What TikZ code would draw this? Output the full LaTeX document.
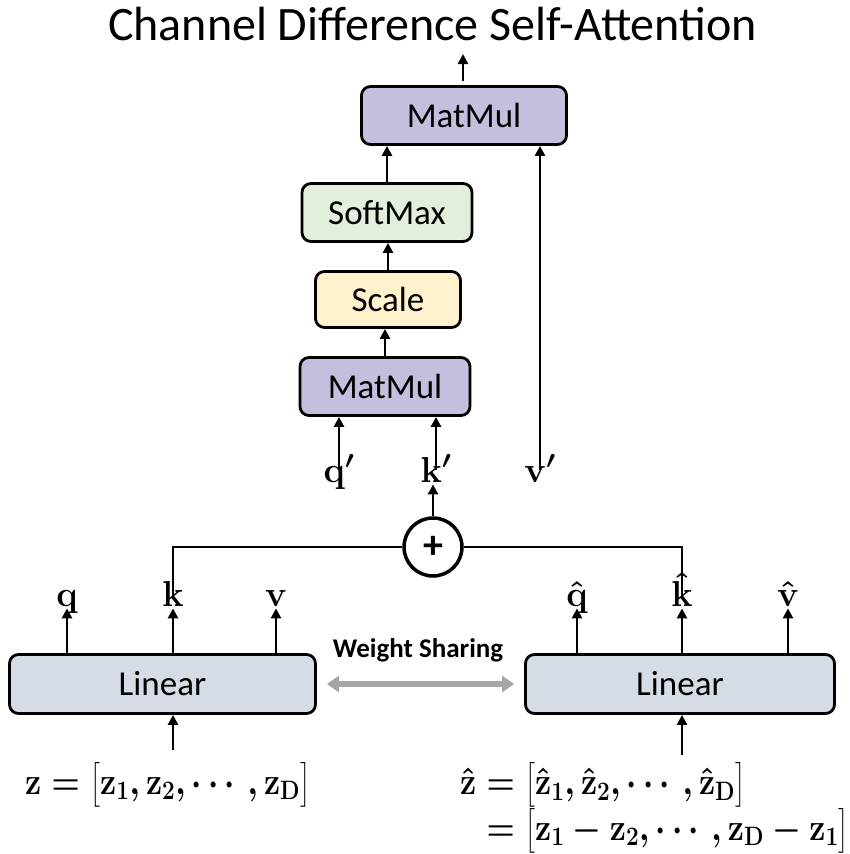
\RequirePackage{fix-cm}
\documentclass[tikz,border=0pt]{standalone}
\usepackage[no-math]{fontspec}
\setmainfont{Carlito}
\usepackage{amsmath}
\usetikzlibrary{arrows.meta}
\definecolor{mmcol}{HTML}{C5BEDE}
\definecolor{smcol}{HTML}{E2EFDA}
\definecolor{sccol}{HTML}{FFF2CC}
\definecolor{lincol}{HTML}{D6DCE5}
\definecolor{wscol}{HTML}{A6A6A6}
\begin{document}
\begin{tikzpicture}[x=1pt,y=-1pt,
  opbox/.style={draw, line width=2.8pt, rounded corners=9pt, inner sep=0pt,
    font=\fontsize{35}{40}\selectfont},
  arr/.style={-{Triangle[length=10pt,width=10pt]}, line width=2.5pt},
  conn/.style={line width=2.5pt},
  lab/.style={inner sep=0pt, anchor=base, font=\fontsize{36}{40}\selectfont\boldmath,
    text height=0.9em, text depth=0.22em},
  formula/.style={inner sep=0pt, font=\fontsize{38}{44}\selectfont\boldmath}]
\useasboundingbox (0,0) rectangle (850,854);

% title
\node[inner sep=0pt, anchor=base, font=\fontsize{48}{50}\selectfont] (title) at (432.5,40) {Channel Difference Self-Attention};
\coordinate (titlein) at (463,54);

% attention stack
\node[opbox, fill=mmcol, minimum width=205, minimum height=58] (mmtop) at (464,115.5) {MatMul};
\node[opbox, fill=smcol, minimum width=170, minimum height=58] (soft) at (387,212.5) {SoftMax};
\node[opbox, fill=sccol, minimum width=145, minimum height=56] (scale) at (388,299.5) {Scale};
\node[opbox, fill=mmcol, minimum width=170, minimum height=58] (mm) at (385,386.5) {MatMul};

\draw[arr, shorten <=4pt] (mmtop.north -| titlein) -- (titlein);
\draw[arr] (soft.north) -- (soft.north |- mmtop.south);
\draw[arr] (scale.north) -- (scale.north |- soft.south);
\draw[arr] (mm.north) -- (mm.north |- scale.south);

% primed labels
\node[lab] (qp) at (339,482) {$\mathbf{q}'$};
\node[lab] (kp) at (436,482) {$\mathbf{k}'$};
\node[lab] (vp) at (540,482) {$\mathbf{v}'$};
\draw[arr, shorten <=3pt] (qp.north) -- (qp.north |- mm.south);
\draw[arr, shorten <=3pt] (kp.north) -- (kp.north |- mm.south);
\draw[arr, shorten <=3pt] (vp.north) -- (vp.north |- mmtop.south);

% sum
\node[draw, circle, line width=3.5pt, minimum size=58, inner sep=0pt,
  font=\fontsize{40}{40}\selectfont\bfseries] (plus) at (433,547) {+};
\draw[arr] (plus.north) -- (plus.north |- kp.south);

% left branch
\node[opbox, fill=lincol, minimum width=306, minimum height=59] (linL) at (162.5,684) {Linear};
\node[lab] (ql) at (67,606) {$\mathbf{q}$};
\node[lab] (kl) at (173,606) {$\mathbf{k}$};
\node[lab] (vl) at (276,606) {$\mathbf{v}$};
\draw[arr] (ql.south |- linL.north) -- (ql.south);
\draw[arr] (kl.south |- linL.north) -- (kl.south);
\draw[arr] (vl.south |- linL.north) -- (vl.south);

% right branch
\node[opbox, fill=lincol, minimum width=309, minimum height=59] (linR) at (680,684) {Linear};
\node[lab] (qr) at (577,606) {$\hat{\mathbf{q}}$};
\node[lab] (kr) at (682,606) {$\hat{\mathbf{k}}$};
\node[lab] (vr) at (788,606) {$\hat{\mathbf{v}}$};
\draw[arr] (qr.south |- linR.north) -- (qr.south);
\draw[arr] (kr.south |- linR.north) -- (kr.south);
\draw[arr] (vr.south |- linR.north) -- (vr.south);

% k, k-hat into sum
\draw[conn] (kl.north) |- (plus.west);
\draw[conn] (kr.north) |- (plus.east);

% weight sharing
\node[inner sep=0pt, font=\fontsize{27}{30}\selectfont\bfseries] (ws) at (418,650) {Weight Sharing};
\draw[{Triangle[length=12pt,width=16pt]}-{Triangle[length=12pt,width=16pt]},
  line width=6pt, draw=wscol, fill=wscol, shorten <=10pt, shorten >=10pt]
  (linL.east) -- (linR.west);

% inputs
\node[formula, anchor=base west] (zl) at (25,794)
  {\scalebox{0.85}[1]{$\mathbf{z} = \big[\mathbf{z}_{\mathbf{1}}, \mathbf{z}_{\mathbf{2}}, \cdots, \mathbf{z}_{\mathbf{D}}\big]$}};
\node[formula, anchor=north west] (zr) at (460,762)
  {\scalebox{0.85}[1]{$\begin{aligned}\hat{\mathbf{z}} &= \big[\hat{\mathbf{z}}_{\mathbf{1}}, \hat{\mathbf{z}}_{\mathbf{2}}, \cdots, \hat{\mathbf{z}}_{\mathbf{D}}\big]\\[-4pt]
  &= \big[\mathbf{z}_{\mathbf{1}} - \mathbf{z}_{\mathbf{2}}, \cdots, \mathbf{z}_{\mathbf{D}} - \mathbf{z}_{\mathbf{1}}\big]\end{aligned}$}};
\coordinate (zlin) at (173,750);
\coordinate (zrin) at (682,755);
\draw[arr] (zlin) -- (zlin |- linL.south);
\draw[arr] (zrin) -- (zrin |- linR.south);
\end{tikzpicture}
\end{document}
